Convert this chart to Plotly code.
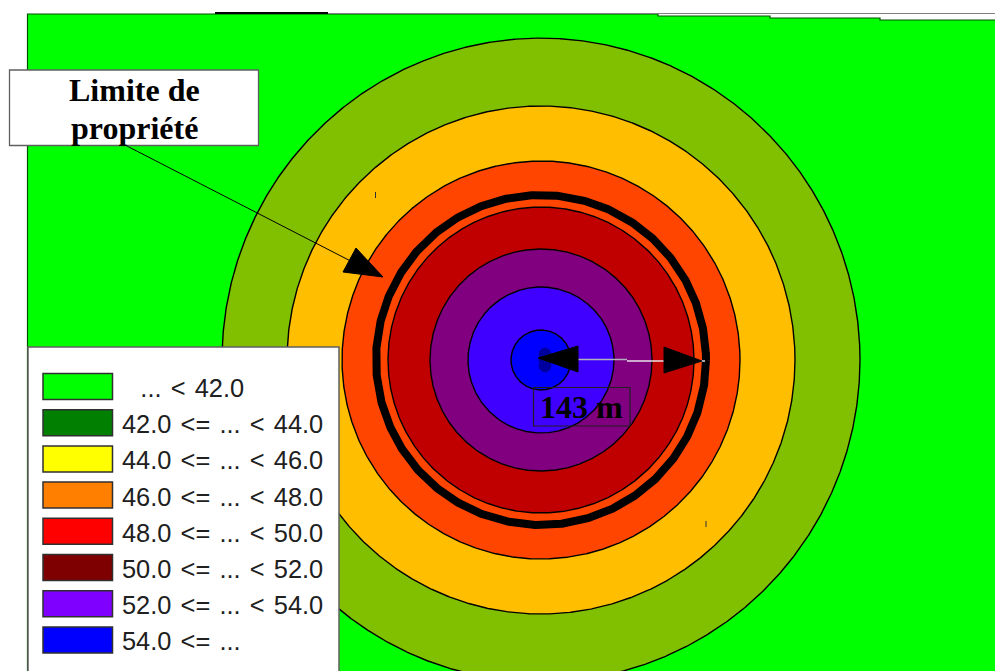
import numpy as np
import plotly.graph_objects as go

# Noise contour bands, outermost first (radius in picture units)
ring_radii = [319, 254, 199, 153, 111, 73, 30]
ring_stretch = [1.009, 1, 1, 1, 1, 1, 1]
ring_colors = ["#80C000", "#FFBF00", "#FF4500", "#C00000", "#800080", "#4000FF", "#0000FF"]
limit_radius = 165
blob_radius = 6
H = "\u200a"
legend_labels = [f"\u00a0\u00a0{H}{H}... {H}< {H}42.0",
                 f"42.0 {H}<= {H}... {H}< {H}44.0", f"44.0 {H}<= {H}... {H}< {H}46.0",
                 f"46.0 {H}<= {H}... {H}< {H}48.0", f"48.0 {H}<= {H}... {H}< {H}50.0",
                 f"50.0 {H}<= {H}... {H}< {H}52.0", f"52.0 {H}<= {H}... {H}< {H}54.0",
                 f"54.0 {H}<= {H}..."]
legend_colors = ["#00FF00", "#007F00", "#FFFF00", "#FF7F00", "#FF0000", "#7F0000", "#7F00FF", "#0000FF"]
distance_label = "143 m"
callout_lines = ["Limite de", "propriété"]

CX, CY = 541, 360
theta = np.linspace(0, 2 * np.pi, 1441)
fig = go.Figure()


def poly(x, y, fill=None, line="black", width=1):
    fig.add_trace(go.Scatter(
        x=x, y=y, mode="lines", hoverinfo="skip", showlegend=False,
        fill="toself" if fill else "none", fillcolor=fill,
        line=dict(color=line, width=width)))


def circle(r, fill=None, line="black", width=1.4, cx=CX, cy=CY, stretch=1):
    poly(cx + r * np.cos(theta), cy + r * stretch * np.sin(theta), fill, line, width)


# Green ground with its stepped top edge
poly([27.5, 27.5, 658, 658, 770, 770, 880, 880, 996, 996, 27.5],
     [672, 14, 14, 16, 16, 18, 18, 20, 20, 672, 672], "#00FF00", "#005000", 1.2)
poly([215, 328], [13, 13], None, "black", 2)
poly([328, 995], [13.5, 13.5], None, "#808080", 1.2)

for r, s, c in zip(ring_radii, ring_stretch, ring_colors):
    circle(r, c, stretch=s)
for dy in (-6, 0, 6):
    circle(blob_radius, "#0000A0", "#0000A0", 1, cx=545, cy=360 + dy)
circle(limit_radius, None, "black", 8)

# Stray ticks
poly([375.5, 375.5], [192, 198], None, "#303030", 1)
poly([706, 706], [521, 527], None, "#303030", 1)

# Callout arrow and distance arrows
poly([125, 372], [145, 272], None, "black", 1)
poly([383, 343, 356, 383], [277, 272, 248, 277], "black", "black", 1)
poly([578, 627], [359.5, 359.5], None, "#B0B0C0", 1.5)
poly([627, 705], [361, 361], None, "#E8E0E8", 1.5)
poly([538, 578, 578, 538], [358, 346, 372, 358], "black", "black", 1)
poly([702, 664, 664, 702], [361, 347, 373, 361], "black", "black", 1)

annotations = [dict(x=581.5, y=407, text=f"<b>{distance_label}</b>", showarrow=False,
                    font=dict(family="Liberation Serif", size=32, color="black"))]
for yy, txt in zip((90, 128), callout_lines):
    annotations.append(dict(x=134, y=yy, text=f"<b>{txt}</b>", showarrow=False,
                            font=dict(family="Liberation Serif", size=32, color="black"),
                            align="center", yanchor="middle"))
shapes = [
    dict(type="rect", x0=533.5, x1=630, y0=387.5, y1=426, line=dict(color="#202020", width=1.2), layer="above"),
    dict(type="rect", x0=9.5, x1=258.5, y0=70, y1=145.5, fillcolor="white",
         line=dict(color="#606060", width=1.3), layer="above"),
    dict(type="rect", x0=28, x1=339, y0=347, y1=680, fillcolor="white",
         line=dict(color="#606060", width=1.5), layer="above"),
]
for i, (lab, col) in enumerate(zip(legend_labels, legend_colors)):
    top = 373.5 + i * 36.2
    shapes.append(dict(type="rect", x0=43, x1=112.5, y0=top, y1=top + 26, fillcolor=col,
                       line=dict(color="#303030", width=1.5), layer="above"))
    annotations.append(dict(x=120, y=top + 14.5, text=lab, showarrow=False, xanchor="left", yanchor="middle",
                            font=dict(family="Liberation Sans", size=25.4, color="#202020")))

fig.update_layout(
    width=995, height=671, margin=dict(l=0, r=0, t=0, b=0),
    paper_bgcolor="white", plot_bgcolor="white", showlegend=False,
    xaxis=dict(range=[0, 995], visible=False, fixedrange=True),
    yaxis=dict(range=[671, 0], visible=False, fixedrange=True),
    shapes=shapes, annotations=annotations)
fig.write_html("out.html", config={"displayModeBar": False},
               post_script="document.body.style.margin='0';")
